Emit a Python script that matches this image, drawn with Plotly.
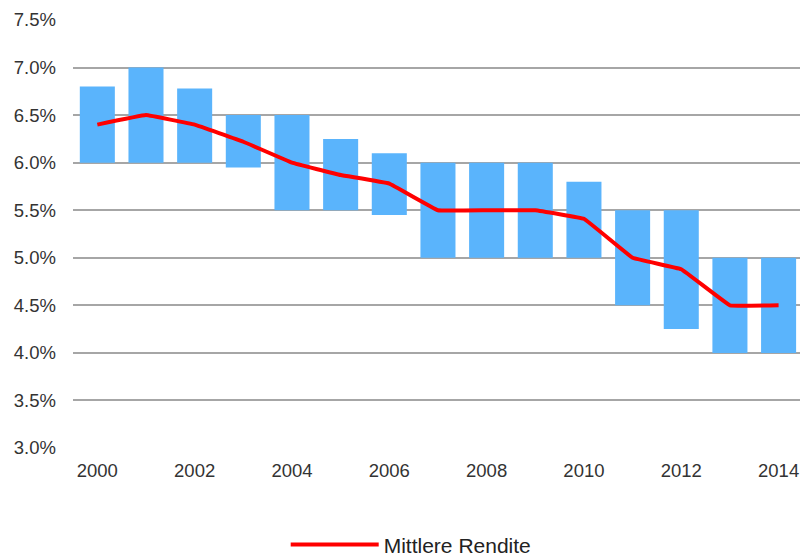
import plotly.graph_objects as go

years = list(range(2000, 2015))
high = [6.80, 7.00, 6.78, 6.50, 6.50, 6.25, 6.10, 6.00, 6.00, 6.00, 5.80, 5.50, 5.50, 5.00, 5.00]
low = [6.00, 6.00, 6.00, 5.95, 5.50, 5.50, 5.45, 5.00, 5.00, 5.00, 5.00, 4.50, 4.25, 4.00, 4.00]
mean = [6.40, 6.50, 6.40, 6.22, 6.00, 5.87, 5.78, 5.50, 5.50, 5.50, 5.41, 5.00, 4.88, 4.50, 4.50]

fig = go.Figure()
fig.add_trace(go.Bar(
    x=years, y=[h - l for h, l in zip(high, low)], base=low,
    width=0.72, marker=dict(color="#5ab4fc", line=dict(width=0)),
    showlegend=False, name="Bandbreite"))
fig.add_trace(go.Scatter(
    x=years, y=mean, mode="lines", name="Mittlere Rendite",
    line=dict(color="#ff0000", width=4, shape="spline", smoothing=0.15)))

fig.update_layout(
    width=800, height=556,
    margin=dict(l=73, r=0, t=19.5, b=108),
    plot_bgcolor="white", paper_bgcolor="white",
    font=dict(family="Liberation Sans, Arial, sans-serif", size=18.5, color="#333333"),
    showlegend=True,
    legend=dict(orientation="h", xref="container", yref="container",
                x=0.514, xanchor="center", y=0.02, yanchor="middle",
                itemwidth=88, font=dict(size=21, color="#222222"),
                bgcolor="rgba(0,0,0,0)"),
    bargap=0.28,
)
fig.update_xaxes(range=[1999.5, 2014.44], tickmode="linear", tick0=2000, dtick=2,
                 showgrid=False, zeroline=False, showline=False, ticks="",
                 ticklabelstandoff=9, automargin=False)
fig.update_yaxes(range=[3.0, 7.5], tickmode="linear", tick0=3.0, dtick=0.5,
                 tickformat=".1f", ticksuffix="%", showgrid=True, gridcolor="#a6a6a6",
                 gridwidth=1.5, zeroline=False, showline=False, ticks="",
                 ticklabelstandoff=16, automargin=False)

fig.write_html("out.html")
